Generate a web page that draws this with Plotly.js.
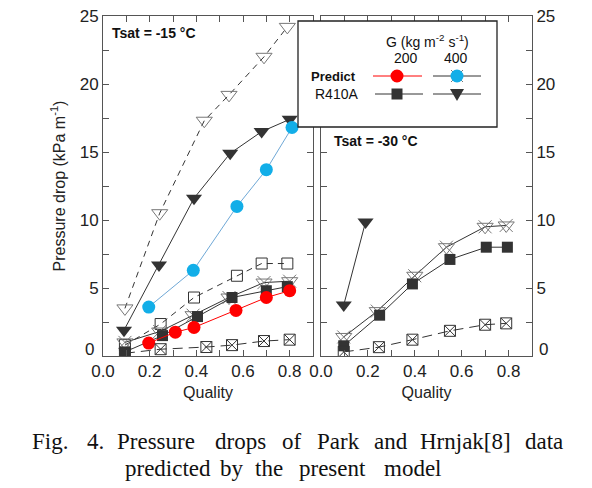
<!DOCTYPE html>
<html><head><meta charset="utf-8">
<script src="https://cdn.plot.ly/plotly-3.0.1.min.js"></script>
<style>html,body{margin:0;padding:0;background:#fff}#chart{width:592px;height:488px}</style>
</head><body><div id="chart"></div>
<script>
// ---- Tsat = -15 °C (left panel) ----
const qA = [0.09, 0.24, 0.39, 0.545, 0.68, 0.80];      // R410A 400 (filled triangle)
const dpA = [1.9, 6.7, 11.6, 14.9, 16.5, 17.4];
const qB = [0.094, 0.243, 0.434, 0.54, 0.69, 0.79];    // open triangle, dashed
const dpB = [3.5, 10.5, 17.3, 19.2, 22.0, 24.2];
const qC = [0.196, 0.387, 0.574, 0.70, 0.81];          // Predict 400 (blue)
const dpC = [3.6, 6.3, 11.0, 13.7, 16.8];
const qD = [0.094, 0.247, 0.39, 0.574, 0.68, 0.79];    // open square, dashed
const dpD = [0.8, 2.35, 4.3, 5.9, 6.8, 6.8];
const qE = [0.094, 0.243, 0.386, 0.54, 0.69, 0.80];    // x-triangle, solid
const dpE = [1.0, 1.8, 3.0, 4.3, 5.4, 5.5];
const qF = [0.094, 0.255, 0.405, 0.553, 0.70, 0.79];   // R410A 200 (filled square)
const dpF = [0.3, 1.5, 2.9, 4.3, 4.8, 5.1];
const qG = [0.196, 0.31, 0.39, 0.57, 0.70, 0.80];      // Predict 200 (red)
const dpG = [0.95, 1.75, 2.1, 3.35, 4.3, 4.8];
const qH = [0.094, 0.247, 0.443, 0.553, 0.69, 0.80];   // square-x, dashed
const dpH = [0.2, 0.5, 0.66, 0.8, 1.1, 1.2];

// ---- Tsat = -30 °C (right panel) ----
const qR1 = [0.097, 0.19];
const dpR1 = [3.75, 9.85];
const qR2 = [0.097, 0.24, 0.40, 0.535, 0.70, 0.79];
const dpR2 = [1.4, 3.3, 5.9, 8.0, 9.5, 9.6];
const qR3 = [0.097, 0.25, 0.39, 0.55, 0.705, 0.795];
const dpR3 = [0.75, 3.0, 5.3, 7.1, 8.0, 8.0];
const qR4 = [0.097, 0.247, 0.39, 0.55, 0.70, 0.79];
const dpR4 = [0.3, 0.65, 1.2, 1.85, 2.3, 2.4];

const xTickVals = [0, 0.2, 0.4, 0.6, 0.8];
const xTickText = ['0.0', '0.2', '0.4', '0.6', '0.8'];
const yTickVals = [5, 10, 15, 20, 25];   // the "0" label is drawn slightly raised, as in the original

const DARK = '#333333', GRAY = '#777777', RED = '#ff0000', BLUE = '#12aee8';

function tr(x, y, ax, symbol, size, mcolor, lcolor, dash, lw, mline) {
  return {x: x, y: y, xaxis: 'x' + ax, yaxis: 'y' + ax, type: 'scatter', mode: 'lines+markers',
    line: {color: lcolor, width: lw, dash: dash},
    marker: {symbol: symbol, size: size, color: mcolor, line: mline || {width: 0}},
    showlegend: false, hoverinfo: 'skip'};
}
function mk(x, y, ax, symbol, size, color, lw) {
  return {x: x, y: y, xaxis: 'x' + ax, yaxis: 'y' + ax, type: 'scatter', mode: 'markers',
    marker: {symbol: symbol, size: size, color: color, line: {color: color, width: lw}},
    showlegend: false, hoverinfo: 'skip'};
}

const data = [
  tr(qB, dpB, '', 'triangle-down-open', 14, GRAY, DARK, '6px,5px', 1, {color: GRAY, width: 1}),
  tr(qA, dpA, '', 'triangle-down', 14, DARK, DARK, 'solid', 1),
  tr(qC, dpC, '', 'circle', 13, BLUE, '#6fa8d6', 'solid', 1),
  tr(qD, dpD, '', 'square-open', 11, DARK, DARK, '6px,5px', 1, {color: DARK, width: 1}),
  tr(qE, dpE, '', 'triangle-down-open', 14, GRAY, DARK, 'solid', 1, {color: GRAY, width: 1}),
  mk(qE, dpE, '', 'x-thin-open', 13, GRAY, 1),
  tr(qF, dpF, '', 'square', 11, DARK, DARK, 'solid', 1),
  tr(qG, dpG, '', 'circle', 13, RED, RED, 'solid', 1),
  tr(qH, dpH, '', 'square-x-open', 11, DARK, DARK, '10px,6px', 1, {color: DARK, width: 1}),

  tr(qR1, dpR1, '2', 'triangle-down', 14, DARK, DARK, 'solid', 1),
  tr(qR2, dpR2, '2', 'triangle-down-open', 14, GRAY, DARK, 'solid', 1, {color: GRAY, width: 1}),
  mk(qR2, dpR2, '2', 'x-thin-open', 13, GRAY, 1),
  tr(qR3, dpR3, '2', 'square', 11, DARK, DARK, 'solid', 1),
  tr(qR4, dpR4, '2', 'square-x-open', 11, DARK, DARK, '10px,6px', 1, {color: DARK, width: 1})
];

const W = 592, H = 488;
const px = v => v / W, py = v => 1 - v / H;
const FONT = 'Liberation Sans, Arial, sans-serif';
const SERIF = 'Liberation Serif, DejaVu Serif, serif';

function xax(dom, anchor) {
  return {domain: dom, anchor: anchor, range: [0, 0.9], tickvals: xTickVals, ticktext: xTickText,
    ticks: 'inside', ticklen: 6, tickcolor: '#555', mirror: 'ticks', showline: true, linecolor: '#555', linewidth: 1,
    minor: {dtick: 0.1, tick0: 0, ticks: 'inside', ticklen: 6, tickcolor: '#555'},
    showgrid: false, zeroline: false, tickfont: {family: FONT, size: 17, color: '#222'},
    title: {text: 'Quality', font: {family: FONT, size: 16, color: '#222'}, standoff: 6}};
}
function yax(dom, anchor, side, title) {
  const a = {domain: dom, anchor: anchor, side: side, range: [0, 25], tickvals: yTickVals,
    ticks: 'inside', ticklen: 6, tickcolor: '#555', mirror: 'ticks', showline: true, linecolor: '#555', linewidth: 1,
    minor: {dtick: 2.5, tick0: 0, ticks: 'inside', ticklen: 6, tickcolor: '#555'},
    showgrid: false, zeroline: false, tickfont: {family: FONT, size: 17, color: '#222'}};
  if (title) a.title = {text: title, font: {family: FONT, size: 16, color: '#222'}, standoff: 10};
  return a;
}

const yDom = [1 - 356 / H, 1 - 16 / H];

const shapes = [
  {type: 'rect', xref: 'paper', yref: 'paper', x0: px(298), x1: px(497), y0: py(127), y1: py(21),
   line: {color: '#222', width: 1.3}, fillcolor: '#fff', layer: 'above'},
  {type: 'line', xref: 'paper', yref: 'paper', x0: px(373), x1: px(422), y0: py(76), y1: py(76), line: {color: RED, width: 1}, layer: 'above'},
  {type: 'line', xref: 'paper', yref: 'paper', x0: px(433), x1: px(481), y0: py(76), y1: py(76), line: {color: DARK, width: 1}, layer: 'above'},
  {type: 'line', xref: 'paper', yref: 'paper', x0: px(375), x1: px(423), y0: py(94), y1: py(94), line: {color: DARK, width: 1}, layer: 'above'},
  {type: 'line', xref: 'paper', yref: 'paper', x0: px(433), x1: px(481), y0: py(94), y1: py(94), line: {color: DARK, width: 1}, layer: 'above'},
  {type: 'path', xref: 'paper', yref: 'paper', xsizemode: 'pixel', ysizemode: 'pixel', xanchor: px(457), yanchor: py(76),
   path: 'M-6,6 L6,-6 M-6,-6 L6,6', line: {color: GRAY, width: 1}, layer: 'above'},
  {type: 'circle', xref: 'paper', yref: 'paper', xsizemode: 'pixel', ysizemode: 'pixel', xanchor: px(397), yanchor: py(76),
   x0: -6.5, x1: 6.5, y0: -6.5, y1: 6.5, fillcolor: RED, line: {width: 0}, layer: 'above'},
  {type: 'circle', xref: 'paper', yref: 'paper', xsizemode: 'pixel', ysizemode: 'pixel', xanchor: px(457), yanchor: py(76),
   x0: -6.5, x1: 6.5, y0: -6.5, y1: 6.5, fillcolor: BLUE, line: {width: 0}, layer: 'above'},
  {type: 'rect', xref: 'paper', yref: 'paper', xsizemode: 'pixel', ysizemode: 'pixel', xanchor: px(397), yanchor: py(94),
   x0: -5.5, x1: 5.5, y0: -5.5, y1: 5.5, fillcolor: DARK, line: {width: 0}, layer: 'above'},
  {type: 'path', xref: 'paper', yref: 'paper', xsizemode: 'pixel', ysizemode: 'pixel', xanchor: px(457), yanchor: py(94),
   path: 'M-7,5 L7,5 L0,-7 Z', fillcolor: DARK, line: {width: 0}, layer: 'above'}
];

function ann(text, x, y, size, opts) {
  return Object.assign({text: text, xref: 'paper', yref: 'paper', x: px(x), y: py(y), showarrow: false,
    xanchor: 'center', yanchor: 'middle', font: {family: FONT, size: size, color: '#111'}}, opts || {});
}

const cap1 = ['Fig.', '4.', 'Pressure', 'drops', 'of', 'Park', 'and', 'Hrnjak[8]', 'data'];
const cap1x = [30, 85, 115, 213, 280, 315, 372, 418, 523];
const cap2 = ['predicted', 'by', 'the', 'present', 'model'];
const cap2x = [123, 218, 253, 297, 382];

const annotations = [
  ann('<b>Tsat = -15 °C</b>', 110, 33, 14, {xanchor: 'left'}),
  ann('<b>Tsat = -30 °C</b>', 332, 141, 14, {xanchor: 'left'}),
  ann('G (kg m<sup>-2</sup> s<sup>-1</sup>)', 427, 41, 14),
  ann('200', 406, 58, 14),
  ann('400', 456, 58, 14),
  ann('<b>Predict</b>', 333, 76, 13),
  ann('R410A', 336, 94, 14),
  ann('0', 96, 349, 17, {xanchor: 'right', font: {family: FONT, size: 17, color: '#222'}}),
  ann('0', 537, 349, 17, {xanchor: 'left', font: {family: FONT, size: 17, color: '#222'}})
];
cap1.forEach((w, i) => annotations.push(ann(w, cap1x[i], 441, 23, {xanchor: 'left', font: {family: SERIF, size: 23, color: '#111'}})));
cap2.forEach((w, i) => annotations.push(ann(w, cap2x[i], 468, 23, {xanchor: 'left', font: {family: SERIF, size: 23, color: '#111'}})));

const layout = {
  width: W, height: H, margin: {l: 0, r: 0, t: 0, b: 0}, paper_bgcolor: '#fff', plot_bgcolor: '#fff',
  showlegend: false,
  xaxis: xax([103 / W, 313 / W], 'y'),
  yaxis: yax(yDom, 'x', 'left', 'Pressure drop (kPa m<sup>-1</sup>)'),
  xaxis2: xax([321 / W, 532 / W], 'y2'),
  yaxis2: yax(yDom, 'x2', 'right', null),
  shapes: shapes,
  annotations: annotations
};

Plotly.newPlot('chart', data, layout, {displayModeBar: false, staticPlot: true});
</script></body></html>
